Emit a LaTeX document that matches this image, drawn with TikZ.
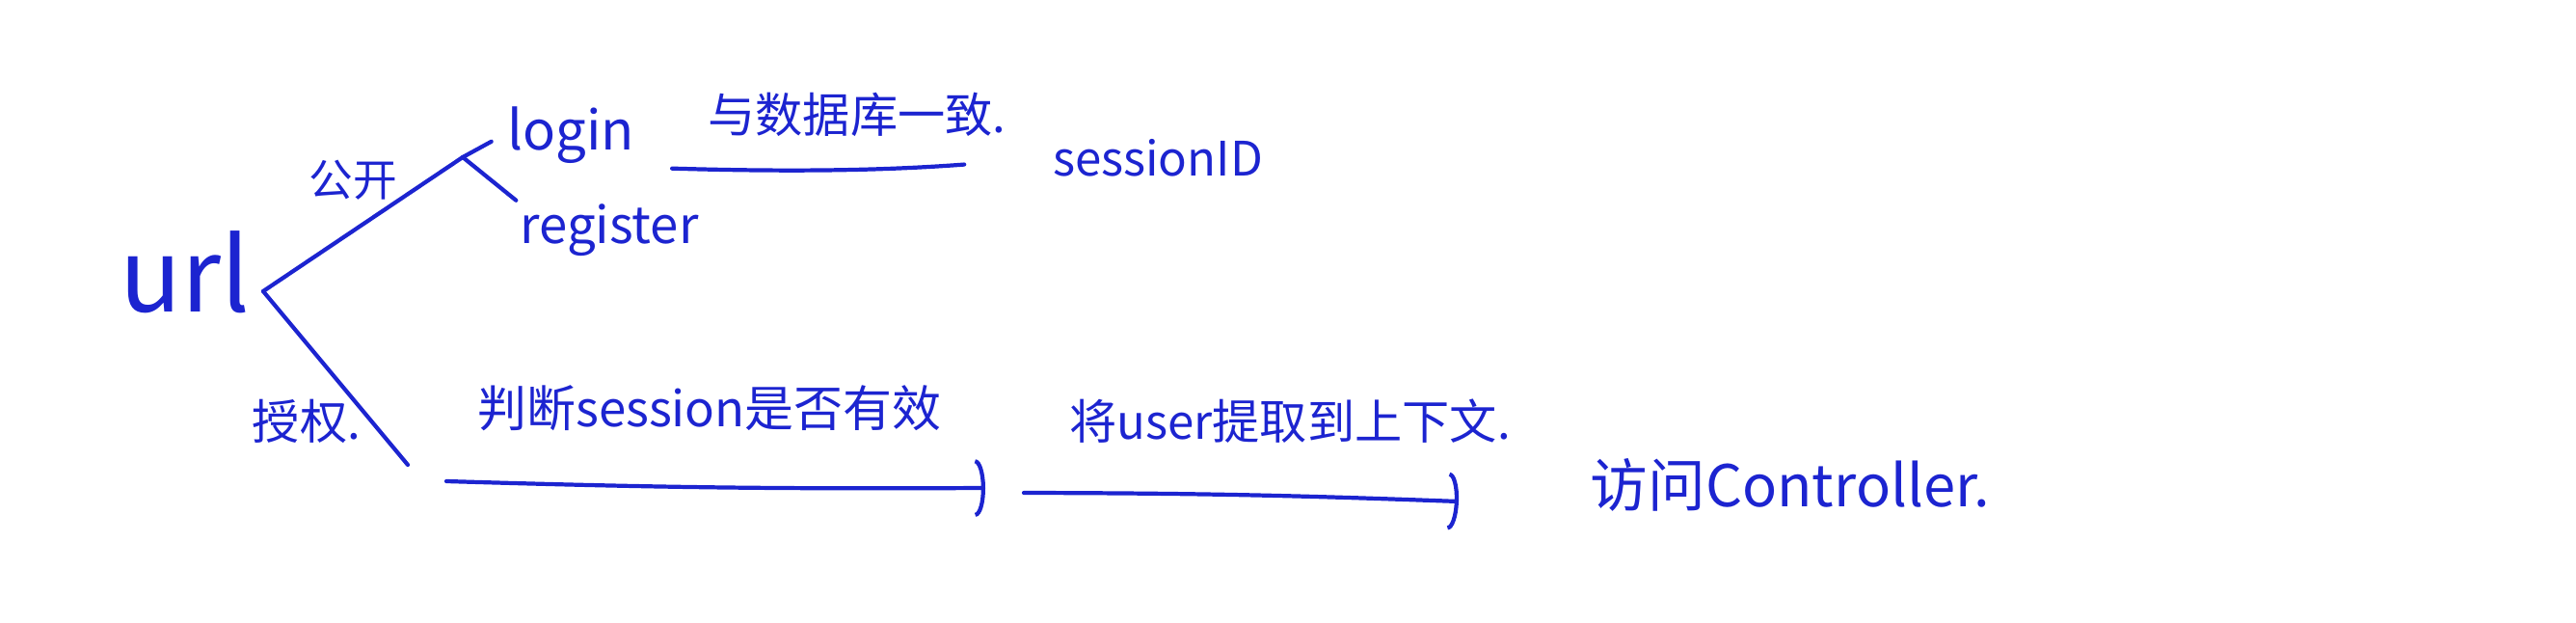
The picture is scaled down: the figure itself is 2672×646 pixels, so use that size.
\documentclass[tikz,border=0pt]{standalone}
\usepackage{fontspec}
\newfontfamily\cjk{Noto Sans CJK SC}
\usepackage{tikz}
\usetikzlibrary{arrows.meta,positioning}
\definecolor{ink}{HTML}{1C24D0}
\tikzset{
  >={Arc Barb[length=3pt,width=17pt]},
  txt/.style={font=\cjk\fontsize{14}{14}\selectfont,text=ink,inner sep=1pt},
  big/.style={txt,font=\cjk\fontsize{30}{30}\selectfont},
  stroke/.style={draw=ink,line width=1.2pt,line cap=round},
  arr/.style={stroke,->},
}

\begin{document}
\begin{tikzpicture}[x=0.1mm,y=-0.1mm]
\useasboundingbox (0,0) rectangle (2672,646);
% left fork
\node[big] (url) at (192,282) {url};
\coordinate (fork) at (273,302);
\coordinate (pubfork) at (480,163);
\coordinate (authend) at (423,482);
\node[txt,font=\cjk\fontsize{13}{13}\selectfont] (pub) at (366,187) {公开};
\node[txt] (auth) at (318,437) {授权.};
% public branch
\node[txt,font=\cjk\fontsize{16}{16}\selectfont] (login) at (592,140) {login};
\node[txt,font=\cjk\fontsize{15}{15}\selectfont] (reg) at (632,239) {register};
\node[txt] (sid) at (1201,164) {sessionID};
\node[txt] (db) at (889,119) {与数据库一致.};
% authorised branch
\node[txt,font=\cjk\fontsize{14.5}{14.5}\selectfont] (chk) at (736,423) {判断session是否有效};
\node[txt] (ctx) at (1338,437) {将user提取到上下文.};
\node[txt,font=\cjk\fontsize{17}{17}\selectfont] (ctrl) at (1857,503) {访问Controller.};
\coordinate (a1s) at (463,499);
\coordinate (a1e) at (1022,506);
\coordinate (a2s) at (1062,511);
\coordinate (a2e) at (1513,520);
\draw[stroke] (fork) -- (pubfork);
\draw[stroke] (fork) -- (authend);
\draw[stroke,shorten >=4pt] (pubfork) -- (login.west);
\draw[stroke] (pubfork) -- (reg.north west);
\draw[stroke,shorten <=10pt,shorten >=25pt] (login.south east) to[bend right=3] (sid.west);
\draw[arr] (a1s) to[bend right=1] (a1e);
\draw[arr] (a2s) to[bend left=1] (a2e);
\end{tikzpicture}
\end{document}
